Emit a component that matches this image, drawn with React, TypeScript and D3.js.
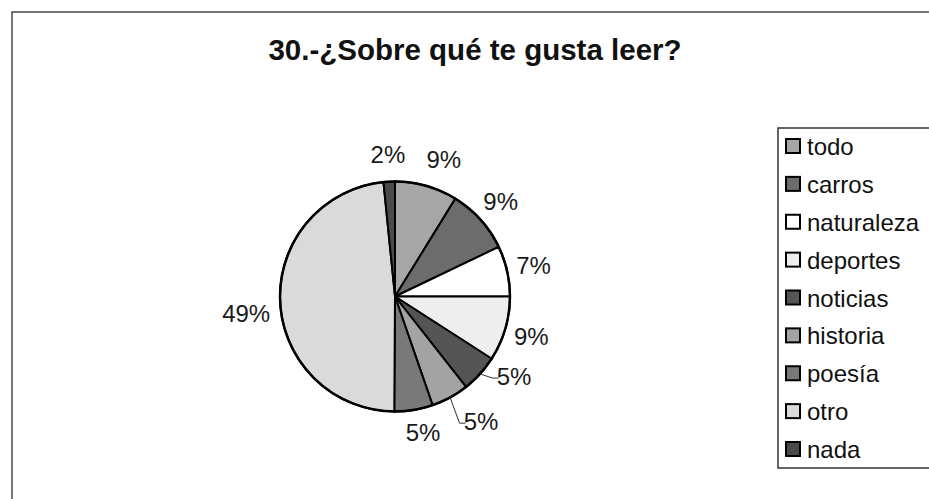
import React from "react";
import * as d3 from "d3";

const categories = ["todo", "carros", "naturaleza", "deportes", "noticias", "historia", "poesía", "otro", "nada"];
// slice shares (percent)
const shares = [8.8, 9.1, 7.1, 9.1, 5.3, 5.3, 5.4, 48.3, 1.6];
// percentage labels as printed on the chart
const pctLabels = ["9%", "9%", "7%", "9%", "5%", "5%", "5%", "49%", "2%"];
const title = "30.-¿Sobre qué te gusta leer?";

const colors = ["#a6a6a6", "#6c6c6c", "#ffffff", "#eeeeee", "#555555", "#a3a3a3", "#797979", "#dadada", "#4a4a4a"];

// label layout tweaks (px), style only
const labelNudge: Record<string, [number, number]> = {
  todo: [10, 0],
  noticias: [14, -16],
  historia: [18, 0],
  poesía: [5, -4],
  otro: [-7, 10],
};
const leaderFor = new Set(["noticias", "historia"]);

const W = 929;
const H = 499;
const cx = 395;
const cy = 296.5;
const R = 115;
const labelR = 142;

export default function App() {
  const pie = d3.pie<number>().sort(null).value((d) => d).startAngle(0).endAngle(2 * Math.PI);
  const arcs = pie(shares);
  const arc = d3.arc<d3.PieArcDatum<number>>().innerRadius(0).outerRadius(R);

  const legendX = 778;
  const legendY = 128;
  const rowY = d3.scalePoint<string>().domain(categories).range([146, 449]);

  return (
    <svg width={W} height={H} style={{ position: "absolute", left: 0, top: 0, background: "#fff" }}
      fontFamily="'Liberation Sans', Arial, sans-serif">
      <rect x={12} y={12} width={W} height={H} fill="#fff" stroke="#4a4a4a" strokeWidth={1.5} />
      <text x={475} y={60} textAnchor="middle" fontSize={29.5} fontWeight="bold" fill="#111">{title}</text>

      <g transform={`translate(${cx},${cy})`}>
        {arcs.map((a, i) => (
          <path key={i} d={arc(a) || ""} fill={colors[i]} stroke="#000" strokeWidth={2} strokeLinejoin="round" />
        ))}
        <circle r={R} fill="none" stroke="#000" strokeWidth={2.5} />
        {arcs.map((a, i) => {
          const mid = (a.startAngle + a.endAngle) / 2;
          const nudge = labelNudge[categories[i]] || [0, 0];
          const lx = labelR * Math.sin(mid) + nudge[0];
          const ly = -labelR * Math.cos(mid) + nudge[1];
          const tw = pctLabels[i].length * 12.5;
          let leader = null;
          if (leaderFor.has(categories[i])) {
            const sx = R * Math.sin(mid);
            const sy = -R * Math.cos(mid);
            const ex = lx - tw / 2 - 3;
            const ey = ly + 2;
            const elbowX = ex - 6;
            leader = (
              <polyline points={`${sx},${sy} ${elbowX},${ey} ${ex},${ey}`} fill="none" stroke="#333" strokeWidth={1} />
            );
          }
          return (
            <g key={"l" + i}>
              {leader}
              <text x={lx} y={ly} textAnchor="middle" dominantBaseline="central" fontSize={24} fill="#1a1a1a">
                {pctLabels[i]}
              </text>
            </g>
          );
        })}
      </g>

      <rect x={legendX} y={legendY} width={W} height={468 - legendY} fill="#fff" stroke="#333" strokeWidth={1.5} />
      {categories.map((c, i) => {
        const y = rowY(c) as number;
        return (
          <g key={"lg" + i}>
            <rect x={786} y={y - 7} width={14} height={14} fill={colors[i]} stroke="#000" strokeWidth={2} />
            <text x={807} y={y + 9} fontSize={24} fill="#111">{c}</text>
          </g>
        );
      })}
    </svg>
  );
}
